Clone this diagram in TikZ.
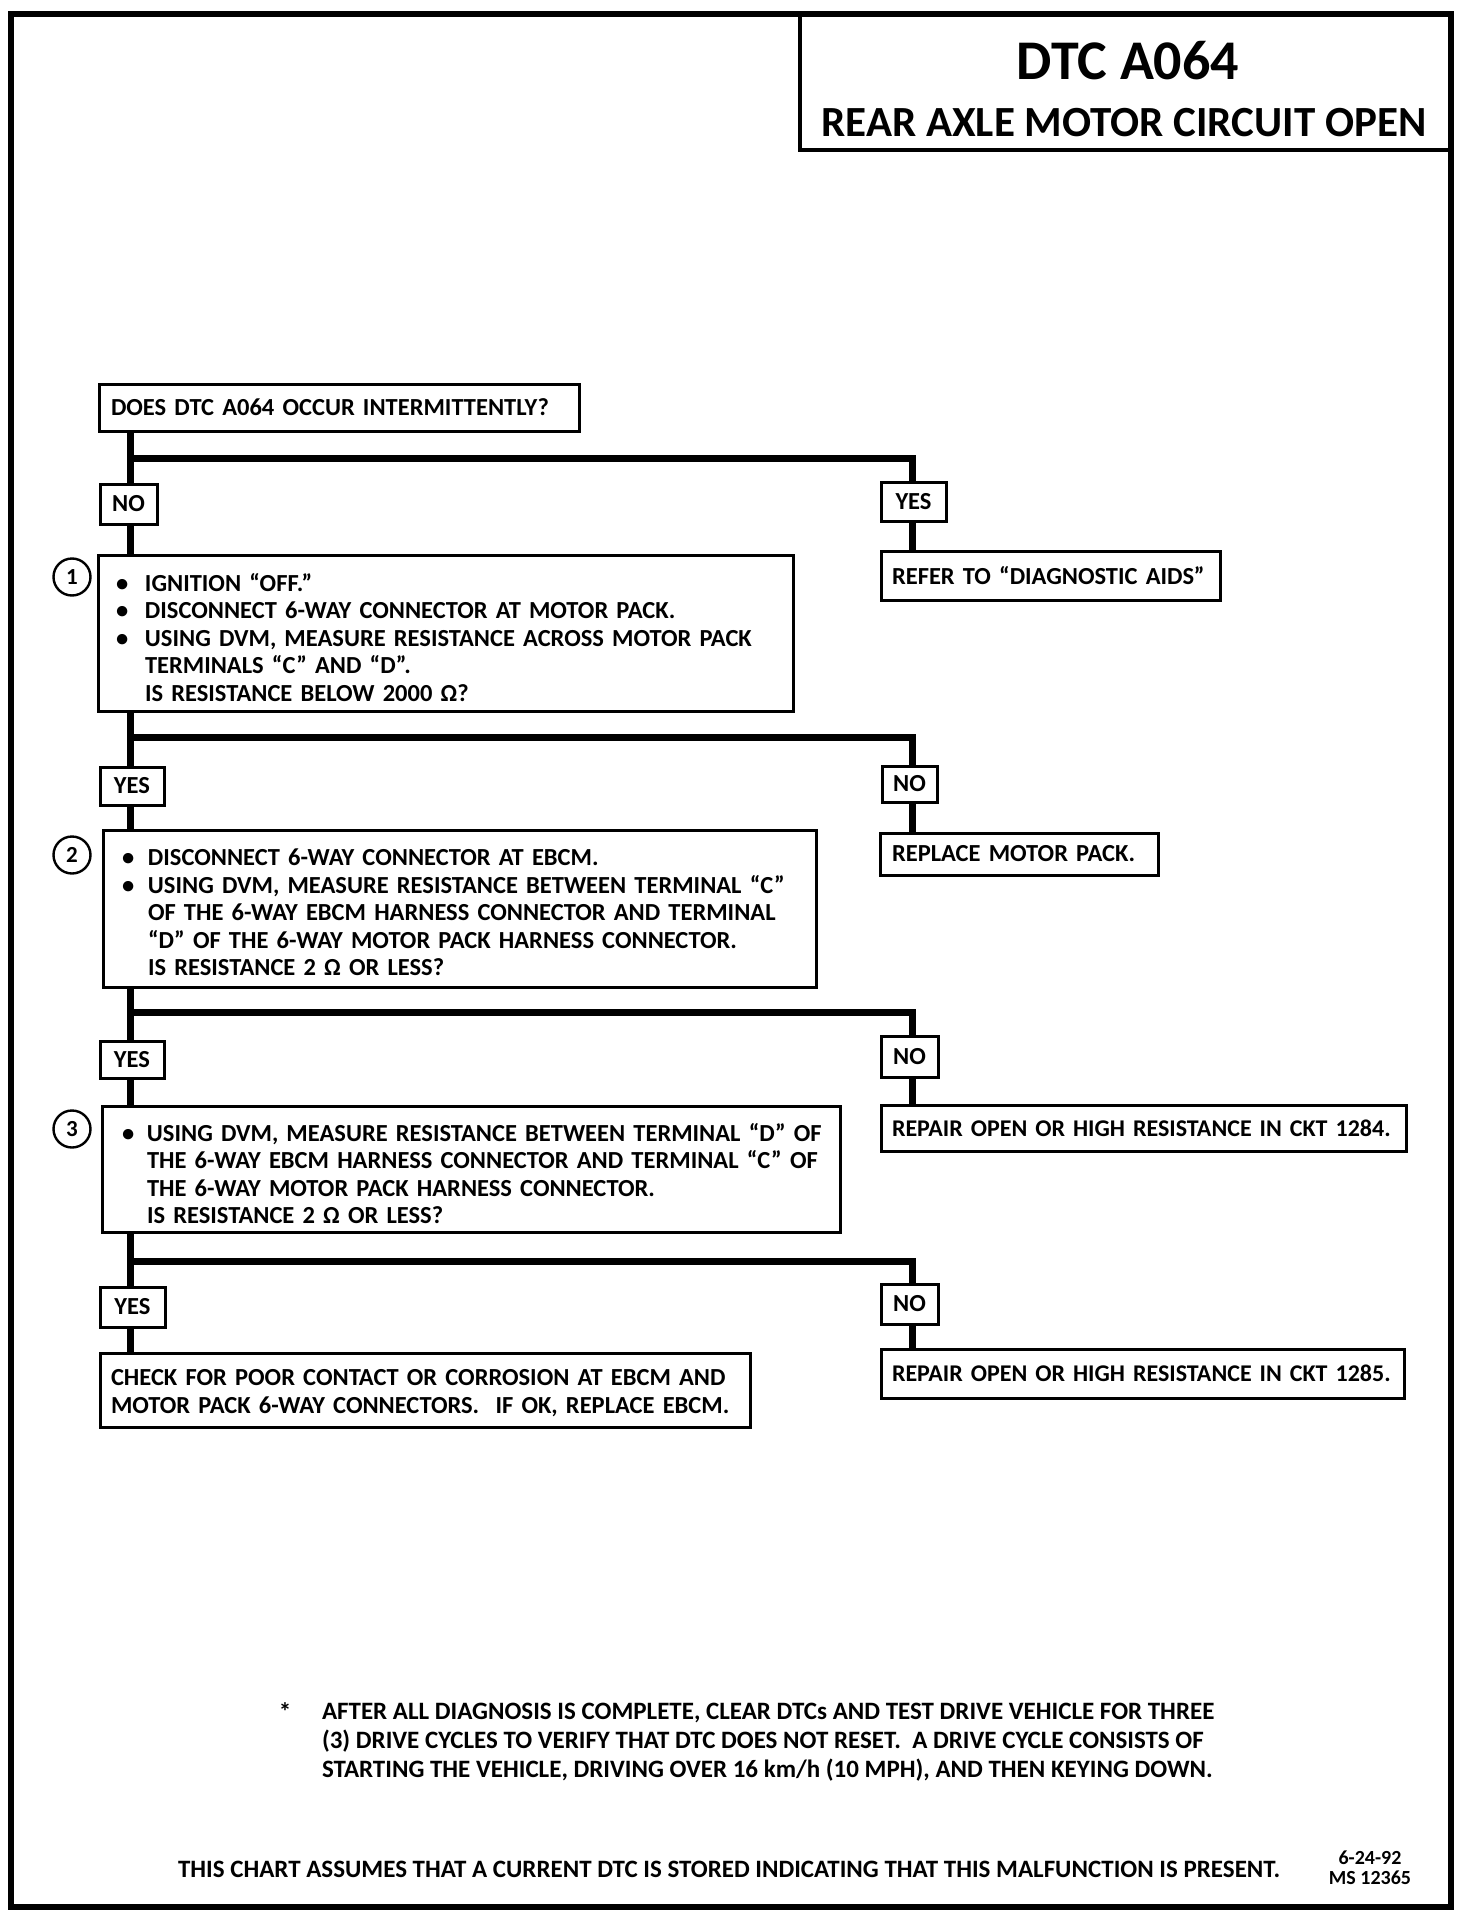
\documentclass[tikz,border=0pt]{standalone}
\usepackage{fontspec}
\setmainfont{Carlito}
\newcommand{\bulx}[1]{\makebox[#1][l]{\textbullet}}
\newcommand{\indx}[1]{\hspace*{#1}}
\newcommand{\lnx}[1]{\mbox{#1}}
\newcommand{\flx}[1]{\rule{0pt}{#1}}
\begin{document}
\begin{tikzpicture}[x=1pt,y=-1pt,
  every node/.style={inner sep=0pt, outer sep=0pt},
  txt/.style={font=\bfseries\fontsize{24.5}{27.5}\selectfont},
  box/.style={txt, draw, line width=3pt, rectangle, anchor=north west, align=left},
  lbl/.style={txt, draw, line width=3pt, rectangle, anchor=north west, align=center},
  conn/.style={line width=7pt},
  num/.style={draw, circle, line width=2.4pt, minimum size=37pt, font=\bfseries\fontsize{23}{23}\selectfont}]
\useasboundingbox (0,0) rectangle (1472,1918);
\draw[line width=6pt] (11,14) rectangle (1451,1907);

% title
\node[draw, line width=4pt, anchor=north west, minimum width=651pt, minimum height=136pt] (title) at (800,14) {};
\node[font=\bfseries\fontsize{56}{56}\selectfont] (t1) at (1128,61) {DTC A064};
\node[font=\bfseries\fontsize{43}{43}\selectfont] (t2) at (1124,123) {REAR AXLE MOTOR CIRCUIT OPEN};

% coordinates for trunk and branches
\coordinate (tk) at (130,0);
\coordinate (rb) at (912,0);
\coordinate (b1) at (0,458);
\coordinate (b2) at (0,737);
\coordinate (b3) at (0,1012);
\coordinate (b4) at (0,1261);

% boxes
\node[box, minimum height=47pt, text width=456pt, inner xsep=12pt] (q0) at (99,384) {\lnx{DOES DTC A064 OCCUR INTERMITTENTLY?}};

\node[lbl, minimum width=57pt, minimum height=40pt] (no1) at (100,484) {NO};
\node[lbl, minimum width=65pt, minimum height=39pt] (yes1) at (881,482) {YES};
\node[box, minimum height=49pt, text width=317pt, inner xsep=11pt] (refer) at (881,551) {\lnx{REFER TO “DIAGNOSTIC AIDS”}};

\node[box, minimum height=156pt, text width=659pt, inner xsep=18pt] (box1) at (98,555) {%
\lnx{\flx{27pt}\bulx{29pt}IGNITION “OFF.”}\\
\lnx{\bulx{29pt}DISCONNECT 6-WAY CONNECTOR AT MOTOR PACK.}\\
\lnx{\bulx{29pt}USING DVM, MEASURE RESISTANCE ACROSS MOTOR PACK}\\
\lnx{\indx{29pt}TERMINALS “C” AND “D”.}\\
\lnx{\indx{29pt}IS RESISTANCE BELOW 2000 Ω?}};
\node[num] (c1) at (72,577) {1};

\node[lbl, minimum width=64pt, minimum height=38pt] (yes2) at (100,767) {YES};
\node[lbl, minimum width=55pt, minimum height=36pt] (no2) at (882,766) {NO};
\node[box, minimum height=42pt, text width=254pt, inner xsep=12pt] (replace) at (880,833) {\lnx{REPLACE MOTOR PACK.}};

\node[box, minimum height=157pt, text width=675pt, inner xsep=19pt] (box2) at (103,830) {%
\lnx{\flx{25pt}\bulx{26pt}DISCONNECT 6-WAY CONNECTOR AT EBCM.}\\
\lnx{\bulx{26pt}USING DVM, MEASURE RESISTANCE BETWEEN TERMINAL “C”}\\
\lnx{\indx{26pt}OF THE 6-WAY EBCM HARNESS CONNECTOR AND TERMINAL}\\
\lnx{\indx{26pt}“D” OF THE 6-WAY MOTOR PACK HARNESS CONNECTOR.}\\
\lnx{\indx{26pt}IS RESISTANCE 2 Ω OR LESS?}};
\node[num] (c2) at (72,855) {2};

\node[lbl, minimum width=64pt, minimum height=37pt] (yes3) at (100,1041) {YES};
\node[lbl, minimum width=57pt, minimum height=41pt] (no3) at (881,1036) {NO};
\node[box, minimum height=46pt, text width=503pt, inner xsep=11pt, font=\bfseries\fontsize{24}{27.5}\selectfont] (rep84) at (881,1105) {\lnx{REPAIR OPEN OR HIGH RESISTANCE IN CKT 1284.}};

\node[box, minimum height=126pt, text width=698pt, inner xsep=20pt] (box3) at (102,1106) {%
\lnx{\flx{27pt}\bulx{25pt}USING DVM, MEASURE RESISTANCE BETWEEN TERMINAL “D” OF}\\
\lnx{\indx{25pt}THE 6-WAY EBCM HARNESS CONNECTOR AND TERMINAL “C” OF}\\
\lnx{\indx{25pt}THE 6-WAY MOTOR PACK HARNESS CONNECTOR.}\\
\lnx{\indx{25pt}IS RESISTANCE 2 Ω OR LESS?}};
\node[num] (c3) at (72,1129) {3};

\node[lbl, minimum width=65pt, minimum height=40pt] (yes4) at (100,1287) {YES};
\node[lbl, minimum width=57pt, minimum height=40pt] (no4) at (881,1284) {NO};
\node[box, minimum height=74pt, text width=628pt, inner xsep=11pt] (check) at (100,1353) {%
\lnx{\flx{22pt}CHECK FOR POOR CONTACT OR CORROSION AT EBCM AND}\\
\lnx{MOTOR PACK 6-WAY CONNECTORS.\ \ IF OK, REPLACE EBCM.}};
\node[box, minimum height=49pt, text width=501pt, inner xsep=11pt, font=\bfseries\fontsize{24}{27.5}\selectfont] (rep85) at (881,1349) {\lnx{REPAIR OPEN OR HIGH RESISTANCE IN CKT 1285.}};

% connectors
\draw[conn] (q0.south -| tk) -- (no1.north -| tk);
\draw[conn] (b1 -| tk) -- (b1 -| rb) -- (yes1.north -| rb);
\draw[conn] (no1.south -| tk) -- (box1.north -| tk);
\draw[conn] (yes1.south -| rb) -- (refer.north -| rb);

\draw[conn] (box1.south -| tk) -- (yes2.north -| tk);
\draw[conn] (b2 -| tk) -- (b2 -| rb) -- (no2.north -| rb);
\draw[conn] (yes2.south -| tk) -- (box2.north -| tk);
\draw[conn] (no2.south -| rb) -- (replace.north -| rb);

\draw[conn] (box2.south -| tk) -- (yes3.north -| tk);
\draw[conn] (b3 -| tk) -- (b3 -| rb) -- (no3.north -| rb);
\draw[conn] (yes3.south -| tk) -- (box3.north -| tk);
\draw[conn] (no3.south -| rb) -- (rep84.north -| rb);

\draw[conn] (box3.south -| tk) -- (yes4.north -| tk);
\draw[conn] (b4 -| tk) -- (b4 -| rb) -- (no4.north -| rb);
\draw[conn] (yes4.south -| tk) -- (check.north -| tk);
\draw[conn] (no4.south -| rb) -- (rep85.north -| rb);

% footnote
\node[font=\bfseries\fontsize{25}{25}\selectfont] (star) at (285,1712) {*};
\node[font=\bfseries\fontsize{25}{28.8}\selectfont, anchor=north west, align=left] (foot) at (322,1703) {%
AFTER ALL DIAGNOSIS IS COMPLETE, CLEAR DTCs AND TEST DRIVE VEHICLE FOR THREE\\
(3) DRIVE CYCLES TO VERIFY THAT DTC DOES NOT RESET.\ \ A DRIVE CYCLE CONSISTS OF\\
STARTING THE VEHICLE, DRIVING OVER 16 km/h (10 MPH), AND THEN KEYING DOWN.};

% footer
\node[font=\bfseries\fontsize{25}{25}\selectfont, anchor=west] (chart) at (178,1869) {THIS CHART ASSUMES THAT A CURRENT DTC IS STORED INDICATING THAT THIS MALFUNCTION IS PRESENT.};
\node[font=\bfseries\fontsize{20}{20}\selectfont, align=center] (ms) at (1370,1868) {6-24-92\\MS 12365};
\end{tikzpicture}
\end{document}
